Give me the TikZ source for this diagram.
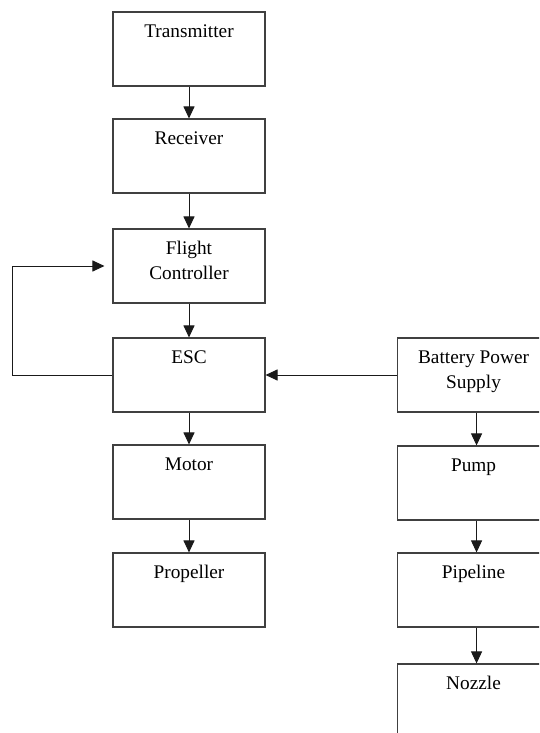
\documentclass[tikz,border=0pt]{standalone}
\usepackage{fontspec}
\setmainfont{Liberation Serif}
\usetikzlibrary{arrows.meta, positioning}
\definecolor{boxGrey}{HTML}{404040}
\definecolor{lineInk}{HTML}{1A1A1A}

% text sits at the top of each block
\newcommand{\blocktext}[1]{\parbox[c][58pt][t]{146pt}{\centering\strut #1}}
% right-hand blocks run off the page edge, text kept near the left
\newcommand{\sidetext}[1]{\makebox[200pt][l]{\hspace{3pt}\blocktext{#1}}}

\begin{document}
\begin{tikzpicture}[x=1pt, y=1pt,
   block/.style={rectangle, draw=boxGrey, line width=1.1pt, fill=white,
                 minimum width=152pt, minimum height=74pt, inner sep=0pt,
                 font=\fontsize{19.3}{25}\selectfont},
   sideblock/.style={block, minimum width=200pt, anchor=west},
   flow/.style={-{Triangle[length=12pt, width=11pt]}, lineInk, line width=1pt}]
\useasboundingbox (0,0) rectangle (539,-733);
\clip (0,0) rectangle (539,-733);

% control chain
\node[block] (tx)   at (189,-49)  {\blocktext{Transmitter}};
\node[block] (rx)   at (189,-156) {\blocktext{Receiver}};
\node[block] (fc)   at (189,-266) {\blocktext{Flight\\Controller}};
\node[block] (esc)  at (189,-375) {\blocktext{ESC}};
\node[block] (mot)  at (189,-482) {\blocktext{Motor}};
\node[block] (prop) at (189,-590) {\blocktext{Propeller}};

% spraying chain
\node[sideblock] (bat)  at (397,-375) {\sidetext{Battery Power\\Supply}};
\node[sideblock] (pump) at (397,-483) {\sidetext{Pump}};
\node[sideblock] (pipe) at (397,-590) {\sidetext{Pipeline}};
\node[sideblock] (noz)  at (397,-701) {\sidetext{Nozzle}};

\coordinate (loop) at (12,-375);

\draw[flow] (tx) -- (rx);
\draw[flow] (rx) -- (fc);
\draw[flow] (fc) -- (esc);
\draw[flow] (esc) -- (mot);
\draw[flow] (mot) -- (prop);

\draw[flow] ([xshift=-21pt]bat.south) -- ([xshift=-21pt]pump.north);
\draw[flow] ([xshift=-21pt]pump.south) -- ([xshift=-21pt]pipe.north);
\draw[flow] ([xshift=-21pt]pipe.south) -- ([xshift=-21pt]noz.north);

\draw[flow] (bat.west) -- (esc.east);
\draw[flow, shorten >=8pt] (esc.west) -- (loop) |- (fc.west);
\end{tikzpicture}
\end{document}
